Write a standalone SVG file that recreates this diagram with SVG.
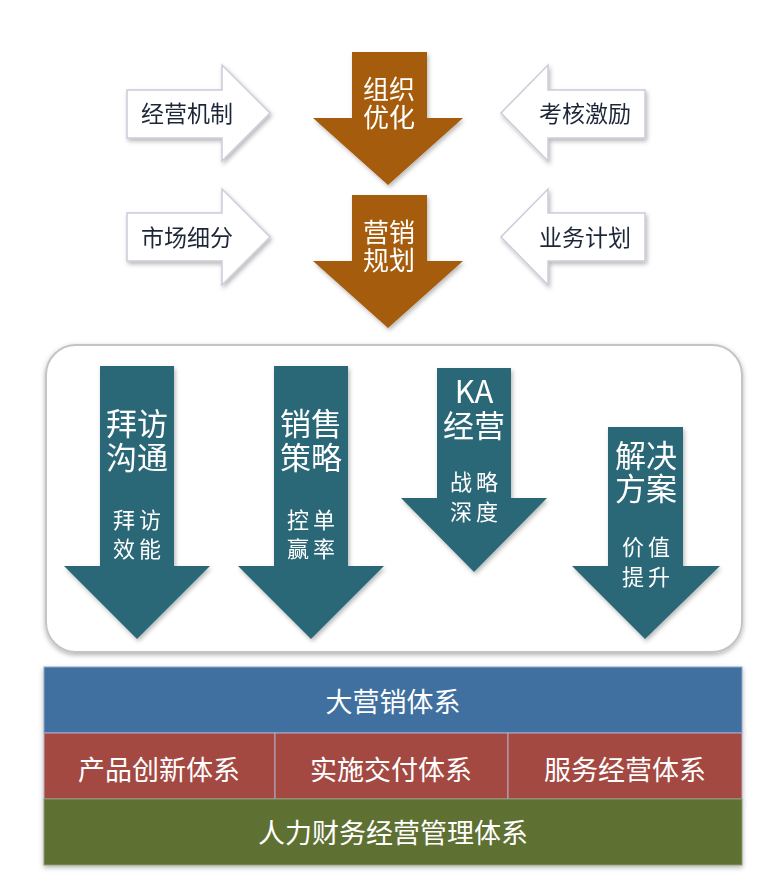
<svg xmlns="http://www.w3.org/2000/svg" width="784" height="894" viewBox="0 0 784 894">
<defs>
<filter id="sh" x="-20%" y="-20%" width="140%" height="140%">
<feDropShadow dx="1.5" dy="2.5" stdDeviation="2" flood-color="#000" flood-opacity="0.28"/>
</filter>
<filter id="sh2" x="-10%" y="-10%" width="120%" height="120%">
<feDropShadow dx="0" dy="2" stdDeviation="2.5" flood-color="#000" flood-opacity="0.3"/>
</filter>
</defs>
<style>
text{font-family:"Noto Sans CJK SC","Noto Sans",sans-serif;text-anchor:middle}
.org{fill:#a65c0b}
.teal{fill:#2c6878}
.wa{fill:#ffffff;stroke:#cbcbdc;stroke-width:1.5}
.wt{fill:#1e2838;font-size:23px}
.ot{fill:#ffffff;font-size:26px}
.tm{fill:#ffffff;font-size:31px}
.ts{fill:#ffffff;font-size:22px;letter-spacing:4px}
.bt{fill:#ffffff;font-size:27px}
</style>
<rect width="784" height="894" fill="#ffffff"/>

<g id="node-jingying-jizhi" filter="url(#sh)">
<path class="wa" d="M127,90 H222 V65 L270,113 L222,161 V138 H127 Z"/>
<text class="wt" x="187" y="122">经营机制</text>
</g>
<g id="node-shichang-xifen" filter="url(#sh)">
<path class="wa" d="M127,213 H222 V189 L270,237 L222,285 V261 H127 Z"/>
<text class="wt" x="187" y="246">市场细分</text>
</g>
<g id="node-kaohe-jili" filter="url(#sh)">
<path class="wa" d="M645,90 H548 V65 L501,113 L548,161 V138 H645 Z"/>
<text class="wt" x="585" y="122">考核激励</text>
</g>
<g id="node-yewu-jihua" filter="url(#sh)">
<path class="wa" d="M645,213 H548 V189 L501,237 L548,285 V261 H645 Z"/>
<text class="wt" x="585" y="246">业务计划</text>
</g>

<g id="node-zuzhi-youhua" filter="url(#sh)">
<path class="org" d="M352,52 H427 V118 H463 L388,185 L313,118 H352 Z"/>
<text class="ot"><tspan x="389" y="99">组织</tspan><tspan x="389" y="127">优化</tspan></text>
</g>
<g id="node-yingxiao-guihua" filter="url(#sh)">
<path class="org" d="M352,195 H427 V261 H463 L388,328 L313,261 H352 Z"/>
<text class="ot"><tspan x="389" y="242">营销</tspan><tspan x="389" y="270">规划</tspan></text>
</g>

<g id="node-panel">
<rect x="46" y="345" width="696" height="307" rx="30" ry="30" fill="#ffffff" stroke="#c4c4c8" stroke-width="2" filter="url(#sh2)"/>
</g>

<g id="node-baifang-goutong" filter="url(#sh)">
<path class="teal" d="M100,366 H174 V566 H210 L137,639 L64,566 H100 Z"/>
<text class="tm"><tspan x="137" y="435">拜访</tspan><tspan x="137" y="469">沟通</tspan></text>
<text class="ts"><tspan x="139" y="528">拜访</tspan><tspan x="139" y="557">效能</tspan></text>
</g>
<g id="node-xiaoshou-celue" filter="url(#sh)">
<path class="teal" d="M274,366 H348 V566 H384 L311,639 L238,566 H274 Z"/>
<text class="tm"><tspan x="311" y="435">销售</tspan><tspan x="311" y="469">策略</tspan></text>
<text class="ts"><tspan x="313" y="528">控单</tspan><tspan x="313" y="557">赢率</tspan></text>
</g>
<g id="node-ka-jingying" filter="url(#sh)">
<path class="teal" d="M437,368 H511 V498 H547 L474,572 L401,498 H437 Z"/>
<text class="tm"><tspan x="474" y="403">KA</tspan><tspan x="474" y="437">经营</tspan></text>
<text class="ts"><tspan x="476" y="490">战略</tspan><tspan x="476" y="520">深度</tspan></text>
</g>
<g id="node-jiejue-fangan" filter="url(#sh)">
<path class="teal" d="M608,427 H683 V566 H720 L645,639 L572,566 H608 Z"/>
<text class="tm"><tspan x="646" y="467">解决</tspan><tspan x="646" y="500">方案</tspan></text>
<text class="ts"><tspan x="648" y="555">价值</tspan><tspan x="648" y="585">提升</tspan></text>
</g>

<g id="node-bands" filter="url(#sh2)">
<rect x="44" y="667" width="698" height="66" fill="#41709f" stroke="#8fa3c8" stroke-width="1"/>
<rect x="44" y="733" width="231" height="66" fill="#a34a43" stroke="#b3a9c9" stroke-width="1"/>
<rect x="275" y="733" width="233" height="66" fill="#a34a43" stroke="#b3a9c9" stroke-width="1"/>
<rect x="508" y="733" width="234" height="66" fill="#a34a43" stroke="#b3a9c9" stroke-width="1"/>
<rect x="44" y="799" width="698" height="66" fill="#5f7133" stroke="#8a9a70" stroke-width="1"/>
</g>
<g id="node-band-text">
<text class="bt" x="393" y="712">大营销体系</text>
<text class="bt" x="159" y="780">产品创新体系</text>
<text class="bt" x="391" y="780">实施交付体系</text>
<text class="bt" x="625" y="780">服务经营体系</text>
<text class="bt" x="393" y="843">人力财务经营管理体系</text>
</g>
<g id="connectors"/>
</svg>
